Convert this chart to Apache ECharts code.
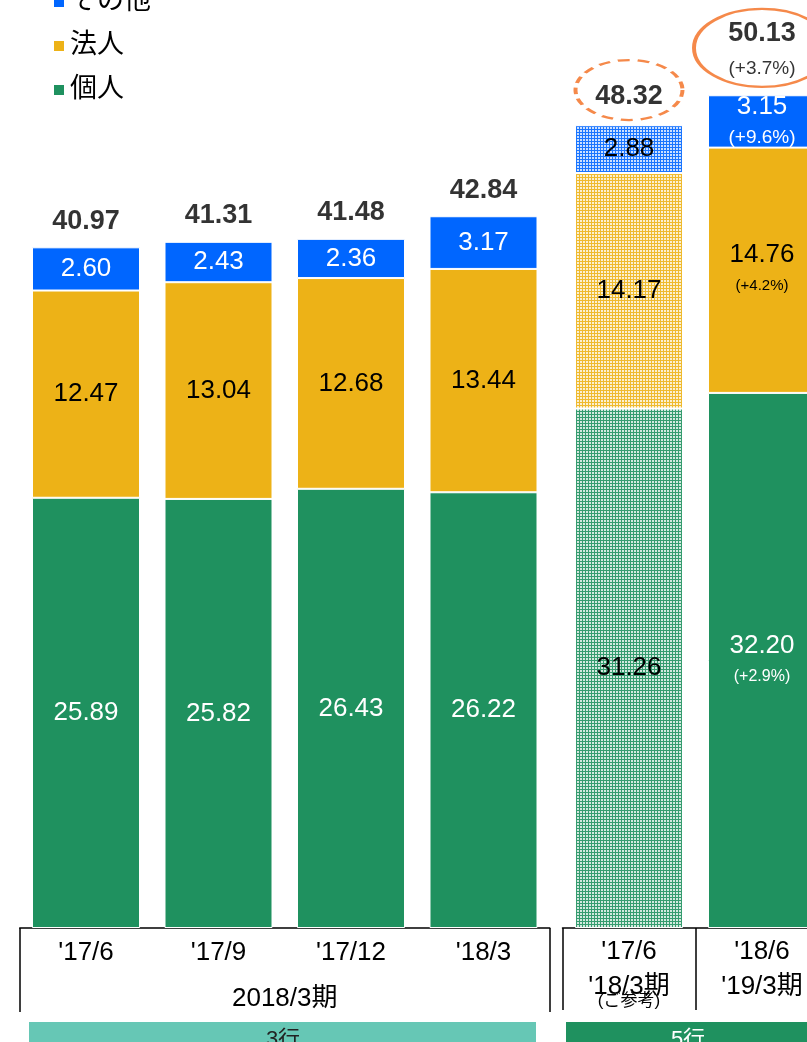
<!DOCTYPE html>
<html>
<head>
<meta charset="utf-8">
<script src="https://cdn.jsdelivr.net/npm/echarts@6/dist/echarts.min.js"></script>
<style>
  html, body { margin: 0; padding: 0; background: #fff; }
  #main { width: 807px; height: 1042px; }
</style>
</head>
<body>
<div id="main"></div>
<script>
// 2018/3期 (3行)
var periods1 = ["'17/6", "'17/9", "'17/12", "'18/3"];
var personal1 = [25.89, 25.82, 26.43, 26.22];
var corporate1 = [12.47, 13.04, 12.68, 13.44];
var other1 = [2.60, 2.43, 2.36, 3.17];
var totals1 = [40.97, 41.31, 41.48, 42.84];

// 5行 (ご参考 / '19/3期)
var periods2 = ["'17/6", "'18/6"];
var fiscal2 = ["'18/3期", "'19/3期"];
var notes2 = ["(ご参考)", ""];
var personal2 = [31.26, 32.20];
var corporate2 = [14.17, 14.76];
var other2 = [2.88, 3.15];
var totals2 = [48.32, 50.13];
var personalGrowth = ["", "+2.9%"];
var corporateGrowth = ["", "+4.2%"];
var otherGrowth = ["", "+9.6%"];
var totalGrowth = ["", "+3.7%"];

var GREEN = '#1F915F', YELLOW = '#EDB217', BLUE = '#0066FF', ORANGE = '#F26B1D';
var FONT = "'Liberation Sans', 'Noto Sans CJK JP', sans-serif";

// 色を白と混ぜる
function tint(hex, w) {
    var n = parseInt(hex.slice(1), 16);
    var r = n >> 16, g = (n >> 8) & 255, b = n & 255;
    var f = function (c) { return Math.round(c + (255 - c) * w); };
    return 'rgb(' + f(r) + ',' + f(g) + ',' + f(b) + ')';
}

// 網掛け（参考値）
function pattern(color) {
    var c = document.createElement('canvas');
    c.width = 3;
    c.height = 3;
    var ctx = c.getContext('2d');
    ctx.fillStyle = tint(color, 0.1);
    ctx.fillRect(0, 0, 3, 3);
    ctx.fillStyle = tint(color, 0.8);
    ctx.fillRect(1, 1, 2, 2);
    return { image: c, repeat: 'repeat' };
}

function barSeries(name, idx, values, color, textColor) {
    return {
        name: name,
        type: 'bar',
        stack: 'g' + idx,
        xAxisIndex: idx,
        yAxisIndex: idx,
        barWidth: 108,
        data: values,
        itemStyle: { color: color, borderColor: '#fff', borderWidth: 1 },
        label: {
            show: true,
            position: 'inside',
            color: textColor,
            fontFamily: FONT,
            fontSize: 26,
            formatter: function (p) { return p.value.toFixed(2); }
        }
    };
}

function refSeries(name, values, growth, color, textColor, pSize) {
    var s = barSeries(name, 1, null, color, textColor);
    s.data = values.map(function (v, i) {
        var item = { value: v };
        if (i === 0) {
            item.itemStyle = { color: pattern(color) };
            item.label = { color: '#000' };
        }
        return item;
    });
    s.label.formatter = function (p) {
        var g = growth[p.dataIndex];
        var txt = '{v|' + p.value.toFixed(2) + '}';
        if (g) txt += '\n{p|(' + g + ')}';
        return txt;
    };
    s.label.rich = {
        v: { fontFamily: FONT, fontSize: 26, lineHeight: 32 },
        p: { fontFamily: FONT, fontSize: pSize, lineHeight: 30 }
    };
    return s;
}

var myChart = echarts.init(document.getElementById('main'));

var option = {
    animation: false,
    backgroundColor: '#fff',
    legend: {
        orient: 'vertical',
        left: 52,
        top: -13,
        padding: 0,
        itemGap: 14,
        itemWidth: 12,
        itemHeight: 12,
        icon: 'rect',
        data: ['その他', '法人', '個人'],
        textStyle: { fontFamily: FONT, fontSize: 27, lineHeight: 30, color: '#000' }
    },
    grid: [
        { left: 19.75, width: 530, top: 14, height: 914, outerBoundsMode: 'none' },
        { left: 562.5, width: 266, top: 14, height: 914, outerBoundsMode: 'none' }
    ],
    xAxis: [
        {
            type: 'category',
            gridIndex: 0,
            data: periods1,
            axisLine: { lineStyle: { color: '#000', width: 1.5 } },
            axisTick: { show: true, length: 84, interval: function (i) { return i === 0; }, lineStyle: { color: '#000', width: 1.5 } },
            axisLabel: { color: '#000', fontFamily: FONT, fontSize: 26, margin: 12 },
            name: '2018/3期',
            nameLocation: 'middle',
            nameGap: 58,
            nameTextStyle: { color: '#000', fontFamily: FONT, fontSize: 26 }
        },
        {
            type: 'category',
            gridIndex: 1,
            data: periods2,
            axisLine: { lineStyle: { color: '#000', width: 1.5 } },
            axisTick: { show: true, length: 82, lineStyle: { color: '#000', width: 1.5 } },
            axisLabel: {
                color: '#000',
                margin: 9,
                formatter: function (v, i) {
                    var t = '{a|' + v + '}\n{b|' + fiscal2[i] + '}';
                    if (notes2[i]) t += '\n{c|' + notes2[i] + '}';
                    return t;
                },
                rich: {
                    a: { fontFamily: FONT, fontSize: 26, lineHeight: 30 },
                    b: { fontFamily: FONT, fontSize: 26, lineHeight: 26, padding: [14, 0, 0, 0] },
                    c: { fontFamily: FONT, fontSize: 17, lineHeight: 16 }
                }
            }
        }
    ],
    yAxis: [
        { type: 'value', gridIndex: 0, min: 0, max: 55, show: false },
        { type: 'value', gridIndex: 1, min: 0, max: 55, show: false }
    ],
    series: [
        barSeries('個人', 0, personal1, GREEN, '#fff'),
        barSeries('法人', 0, corporate1, YELLOW, '#000'),
        barSeries('その他', 0, other1, BLUE, '#fff'),
        {
            type: 'scatter',
            xAxisIndex: 0,
            yAxisIndex: 0,
            data: totals1,
            symbolSize: 1,
            itemStyle: { color: 'rgba(0,0,0,0)' },
            label: {
                show: true,
                position: 'top',
                distance: 12,
                color: '#000',
                fontFamily: FONT,
                fontWeight: 'bold',
                fontSize: 27,
                formatter: function (p) { return p.value.toFixed(2); }
            },
            z: 5
        },
        refSeries('個人', personal2, personalGrowth, GREEN, '#fff', 16),
        refSeries('法人', corporate2, corporateGrowth, YELLOW, '#000', 15),
        refSeries('その他', other2, otherGrowth, BLUE, '#fff', 19),
        {
            type: 'scatter',
            xAxisIndex: 1,
            yAxisIndex: 1,
            symbol: 'circle',
            data: [
                {
                    value: totals2[0],
                    symbolSize: [107, 60],
                    symbolOffset: [0, -35],
                    itemStyle: { borderType: [9, 6] },
                    label: { offset: [0, 7] }
                },
                {
                    value: totals2[1],
                    symbolSize: [136, 78],
                    symbolOffset: [0, -47],
                    label: { offset: [0, 3] }
                }
            ],
            itemStyle: { color: 'rgba(0,0,0,0)', borderColor: ORANGE, borderWidth: 3 },
            label: {
                show: true,
                position: 'inside',
                color: '#000',
                formatter: function (p) {
                    var t = '{v|' + totals2[p.dataIndex].toFixed(2) + '}';
                    if (totalGrowth[p.dataIndex]) t += '\n{p|(' + totalGrowth[p.dataIndex] + ')}';
                    return t;
                },
                rich: {
                    v: { fontFamily: FONT, fontWeight: 'bold', fontSize: 27, lineHeight: 35, color: '#000' },
                    p: { fontFamily: FONT, fontSize: 19, lineHeight: 35, color: '#000' }
                }
            },
            z: 5
        }
    ],
    graphic: [
        {
            type: 'group',
            left: 29,
            top: 1022,
            children: [
                { type: 'rect', shape: { x: 0, y: 0, width: 507, height: 30 }, style: { fill: '#66C7B5' } },
                { type: 'text', x: 254, y: 18, style: { text: '3行', fill: '#222', font: '22px ' + FONT, align: 'center', verticalAlign: 'middle' } }
            ]
        },
        {
            type: 'group',
            left: 566,
            top: 1022,
            children: [
                { type: 'rect', shape: { x: 0, y: 0, width: 250, height: 30 }, style: { fill: GREEN } },
                { type: 'text', x: 122, y: 18, style: { text: '5行', fill: '#fff', font: '22px ' + FONT, align: 'center', verticalAlign: 'middle' } }
            ]
        }
    ]
};

myChart.setOption(option);
</script>
</body>
</html>
